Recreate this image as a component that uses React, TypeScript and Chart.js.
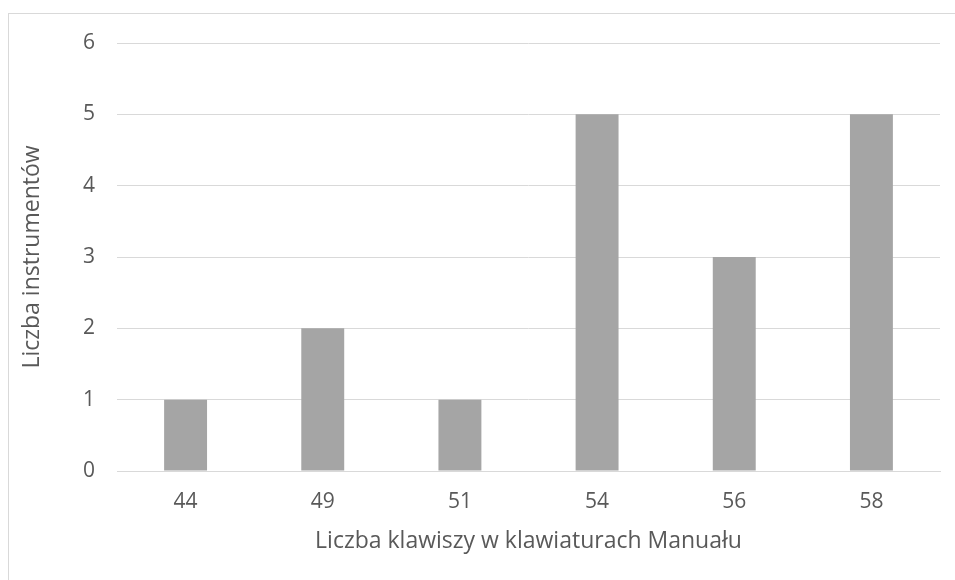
import React, { useEffect, useRef } from "react";
import { Chart, registerables } from "chart.js";

Chart.register(...registerables);

const categories = ["44", "49", "51", "54", "56", "58"];
const counts = [1, 2, 1, 5, 3, 5];
const yTicks = [0, 1, 2, 3, 4, 5, 6];
const xTitle = "Liczba klawiszy w klawiaturach Manuału";
const yTitle = "Liczba instrumentów";

const FONT = "'Open Sans', sans-serif";
const TEXT = "#595959";

export default function App() {
  const ref = useRef<HTMLCanvasElement | null>(null);
  useEffect(() => {
    if (!ref.current) return;
    const chart = new Chart(ref.current, {
      type: "bar",
      data: {
        labels: categories,
        datasets: [
          {
            data: counts,
            backgroundColor: "#a5a5a5",
            borderWidth: 0,
            barPercentage: 0.313,
            categoryPercentage: 1,
          },
        ],
      },
      options: {
        animation: false,
        responsive: false,
        maintainAspectRatio: false,
        layout: { padding: { left: 0, right: 15, top: 43, bottom: 0 } },
        plugins: { legend: { display: false }, tooltip: { enabled: false } },
        scales: {
          x: {
            grid: { display: false, drawTicks: false },
            border: { display: true, color: "#d9d9d9", width: 1 },
            ticks: { color: TEXT, font: { family: FONT, size: 21 }, padding: 18 },
            title: {
              display: true,
              text: xTitle,
              color: TEXT,
              font: { family: FONT, size: 23 },
              padding: { top: 0, bottom: 25 },
            },
            afterFit: (axis: any) => {
              axis.height = 109;
            },
          },
          y: {
            min: 0,
            max: 6,
            afterBuildTicks: (axis: any) => {
              axis.ticks = yTicks.map((v) => ({ value: v }));
            },
            grid: { color: "#d9d9d9", lineWidth: 1, drawTicks: false },
            border: { display: false },
            ticks: { color: TEXT, font: { family: FONT, size: 21 }, padding: 22, stepSize: 1 },
            title: {
              display: true,
              text: yTitle,
              color: TEXT,
              font: { family: FONT, size: 23 },
              padding: { top: 19, bottom: 0 },
            },
            afterFit: (axis: any) => {
              axis.width = 117;
            },
          },
        },
      },
    });
    return () => chart.destroy();
  }, []);
  return (
    <div style={{ position: "fixed", left: 0, top: 0, width: 955, height: 580, background: "#fff" }}>
      <div
        style={{
          position: "absolute",
          left: 8,
          top: 13,
          width: 960,
          height: 580,
          borderTop: "1px solid #d9d9d9",
          borderLeft: "1px solid #d9d9d9",
        }}
      />
      <canvas ref={ref} width={955} height={580} style={{ position: "absolute", left: 0, top: 0 }} />
    </div>
  );
}
